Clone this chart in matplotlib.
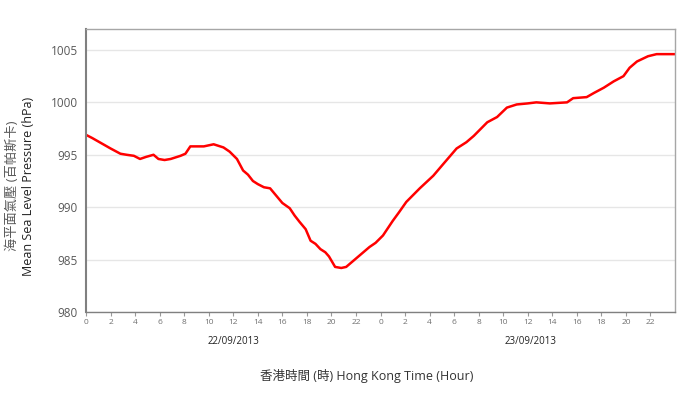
import matplotlib.pyplot as plt

plt.rcParams['font.family'] = ['Open Sans', 'Noto Sans CJK TC', 'DejaVu Sans']

# hours since 00:00 22/09/2013 and pressure (hPa)
hours = [0.0, 0.5, 1.1, 2.0, 2.8, 3.3, 3.9, 4.4, 4.9, 5.5, 5.9, 6.4, 6.9, 7.7,
         8.1, 8.5, 9.0, 9.6, 10.4, 11.2, 11.7, 12.3, 12.8, 13.2, 13.6, 14.0,
         14.5, 15.0, 15.5, 16.0, 16.6, 17.0, 17.4, 17.9, 18.3, 18.7, 19.1,
         19.5, 19.8, 20.3, 20.8, 21.2, 21.8, 22.3, 23.1, 23.6, 24.2, 25.0,
         25.5, 26.1, 27.2, 28.3, 29.1, 30.2, 31.0, 31.6, 32.7, 33.5, 34.3,
         35.1, 36.0, 36.7, 37.8, 39.2, 39.7, 40.8, 41.4, 42.2, 43.0, 43.8,
         44.3, 44.9, 45.8, 46.5, 47.2, 47.9]
pressure = [996.9, 996.6, 996.2, 995.6, 995.1, 995.0, 994.9, 994.6, 994.8,
            995.0, 994.6, 994.5, 994.6, 994.9, 995.1, 995.8, 995.8, 995.8,
            996.0, 995.7, 995.3, 994.6, 993.5, 993.1, 992.5, 992.2, 991.9,
            991.8, 991.1, 990.4, 989.9, 989.2, 988.6, 987.9, 986.8, 986.5,
            986.0, 985.7, 985.3, 984.3, 984.2, 984.3, 984.9, 985.4, 986.2,
            986.6, 987.3, 988.7, 989.5, 990.5, 991.8, 993.0, 994.1, 995.6,
            996.2, 996.8, 998.1, 998.6, 999.5, 999.8, 999.9, 1000.0, 999.9,
            1000.0, 1000.4, 1000.5, 1000.9, 1001.4, 1002.0, 1002.5, 1003.3,
            1003.9, 1004.4, 1004.6, 1004.6, 1004.6]

tick_hours = list(range(0, 48, 2))
tick_labels = [str(h % 24) for h in tick_hours]
dates = ["22/09/2013", "23/09/2013"]

fig = plt.figure(figsize=(7, 3.97), dpi=100)
ax = fig.add_axes([0.1229, 0.2141, 0.8414, 0.7129])

ax.plot(hours, pressure, color="#ff0000", linewidth=1.8)

ax.set_xlim(0, 48)
ax.set_ylim(980, 1007)
ax.set_yticks(range(980, 1006, 5))
ax.set_xticks(tick_hours)
ax.set_xticklabels(tick_labels, fontsize=6, color="#707070")
ax.tick_params(axis="y", length=0, labelsize=8.5, labelcolor="#595959", pad=6)
ax.tick_params(axis="x", length=3, color="#999999", pad=2)
ax.grid(True, axis="y", color="#e6e6e6", linewidth=1)
ax.set_axisbelow(True)
for s in ax.spines.values():
    s.set_color("#a6a6a6")
    s.set_linewidth(1)
ax.spines["left"].set_color("#808080")
ax.spines["left"].set_linewidth(1.5)
ax.spines["bottom"].set_color("#808080")

# date labels under each day
fig.text(234 / 700, 1 - 341 / 397, dates[0], ha="center", va="center",
         fontsize=7, color="#222222")
fig.text(531 / 700, 1 - 341 / 397, dates[1], ha="center", va="center",
         fontsize=7, color="#222222")

fig.text(367 / 700, 1 - 376 / 397, "香港時間 (時) Hong Kong Time (Hour)",
         ha="center", va="center", fontsize=9, color="#333333")

fig.text(12 / 700, 1 - 186 / 397, "海平面氣壓 (百帕斯卡)", rotation=90,
         ha="center", va="center", fontsize=9.5, color="#595959")
fig.text(29 / 700, 1 - 186 / 397, "Mean Sea Level Pressure (hPa)", rotation=90,
         ha="center", va="center", fontsize=9, color="#222222")

fig.savefig("out.png", dpi=100)
